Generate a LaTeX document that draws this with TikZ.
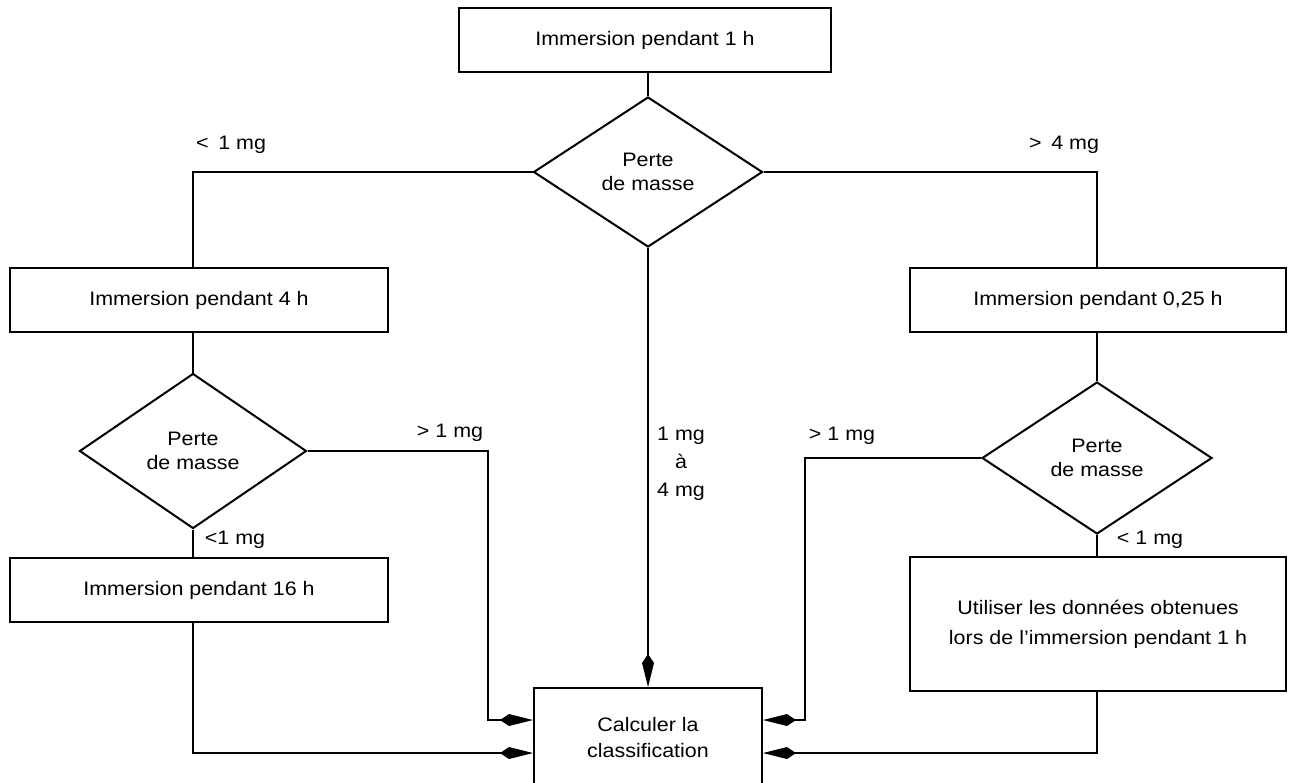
\documentclass[tikz,border=0pt]{standalone}
\usepackage{fontspec}
\setmainfont{Liberation Sans}[FakeStretch=1.1]
\usetikzlibrary{shapes.geometric,arrows.meta}
\begin{document}
\begin{tikzpicture}[x=1pt,y=-1pt,
  every node/.style={font=\fontsize{19.5}{24}\selectfont},
  box/.style={draw,line width=2pt,inner sep=0pt,align=center},
  dia/.style={draw,diamond,line width=2pt,inner sep=0pt,align=center},
  conn/.style={line width=2pt},
  arr/.style={conn,-{Kite[length=33pt,width=12pt,inset=9pt]}},
  lbl/.style={inner sep=0pt,align=center}]
\useasboundingbox (0,0) rectangle (1289,782);
\fill[white] (0,0) rectangle (1289,782);
% nodes
\node[box,minimum width=372pt,minimum height=64pt] (top) at (645,40) {Immersion pendant 1 h};
\node[dia,minimum width=229pt,minimum height=150pt] (d1) at (648,172) {Perte\\de masse};
\node[box,minimum width=378pt,minimum height=64pt] (b4) at (199,300) {Immersion pendant 4 h};
\node[dia,minimum width=227pt,minimum height=155pt] (d2) at (193,451) {Perte\\de masse};
\node[box,minimum width=378pt,minimum height=64pt] (b16) at (199,590) {Immersion pendant 16 h};
\node[box,minimum width=376pt,minimum height=64pt] (b025) at (1098,300) {Immersion pendant 0,25 h};
\node[dia,minimum width=230pt,minimum height=152pt] (d3) at (1097,458) {Perte\\de masse};
\node[box,minimum width=376pt,minimum height=134pt,font=\fontsize{19.5}{30}\selectfont] (bU) at (1098,624) {Utiliser les données obtenues\\lors de l'immersion pendant 1 h};
\node[box,minimum width=228pt,minimum height=100pt,font=\fontsize{19.5}{26}\selectfont] (calc) at (648,738) {Calculer la\\classification};
% labels
\node[lbl] (l1) at (231,145) {<\enspace 1 mg};
\node[lbl] (l2) at (1064,145) {>\enspace 4 mg};
\node[lbl] (l3) at (450,433) {> 1 mg};
\node[lbl] (l4) at (235,540) {<1 mg};
\node[lbl] (l5) at (842,436) {> 1 mg};
\node[lbl] (l6) at (1150,540) {< 1 mg};
\node[lbl,font=\fontsize{19.5}{28}\selectfont,anchor=west] (l7) at (657,464) {1 mg\\à\\4 mg};
% helper coordinates
\coordinate (lv) at (488,720);
\coordinate (rv) at (805,720);
\coordinate (lb) at (0,753);
% connectors
\draw[conn] (top.south -| d1.north) -- (d1.north);
\draw[conn] (d1.west) -| (b4.north -| d2.north);
\draw[conn] (b4.south -| d2.north) -- (d2.north);
\draw[conn] (d2.south) -- (b16.north -| d2.south);
\draw[arr] (d2.east) -| (lv) -- (lv -| calc.west);
\draw[arr] (b16.south -| d2.south) |- (lb -| calc.west);
\draw[arr] (d1.south) -- (calc.north);
\draw[conn] (d1.east) -| (b025.north -| d3.north);
\draw[conn] (b025.south -| d3.north) -- (d3.north);
\draw[conn] (d3.south) -- (bU.north -| d3.south);
\draw[arr] (d3.west) -| (rv) -- (rv -| calc.east);
\draw[arr] (bU.south -| d3.south) |- (lb -| calc.east);
\end{tikzpicture}
\end{document}
